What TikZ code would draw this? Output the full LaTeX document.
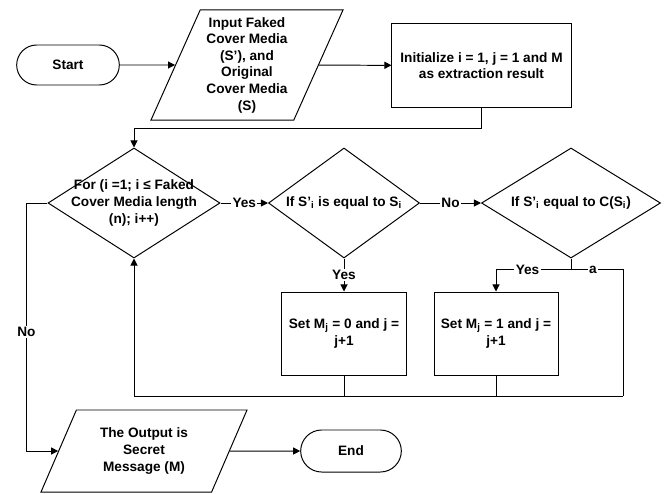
\documentclass[tikz,border=0pt]{standalone}
\usepackage{fontspec}
\setmainfont{Liberation Sans}
\usetikzlibrary{arrows.meta, shapes.geometric, shapes.misc}

\begin{document}
\begin{tikzpicture}[
		x=0.025cm, y=-0.025cm,
		every node/.style={font=\bfseries\fontsize{9.7}{11.8}\selectfont, align=center},
		terminal/.style={rounded rectangle, draw=black, minimum width=2.8cm, minimum height=1cm},
		io/.style={trapezium, trapezium stretches=true, draw=black, inner sep=0pt},
		process/.style={rectangle, draw=black, minimum width=3.1cm, minimum height=2.075cm},
		decision/.style={diamond, draw=black, minimum height=2.75cm, inner sep=0pt},
		lbl/.style={fill=white, inner sep=1pt},
		>={Triangle[length=5pt, width=5pt]},
		line width=0.7pt
		]
		\useasboundingbox (0,0) rectangle (668,493);
		
		% Positions of the nodes
		\node[terminal] (start) at (68,65) {Start};
		\node[io, trapezium left angle=66, trapezium right angle=114,
		minimum width=4.8cm, minimum height=2.75cm] (in) at (247,65)
		{Input Faked\\Cover Media\\(S’), and\\Original\\Cover Media\\(S)};
		\node[process, minimum width=4.475cm] (init) at (481.5,65.5)
		{Initialize i = 1, j = 1 and M\\as extraction result};
		
		\node[decision, minimum width=4.3cm] (for) at (134,203) {};
		\node at (for) {For (i =1; i ≤ Faked\\Cover Media length\\(n); i++)};
		\node[decision, minimum width=3.775cm] (if1) at (344,203) {};
		\node at (if1) {If S’\textsubscript{i} is equal to S\textsubscript{i}};
		\node[decision, minimum width=4.475cm] (if2) at (571,203) {};
		\node at (if2) {If S’\textsubscript{i} equal to C(S\textsubscript{i})};
		
		\node[process] (set0) at (344,333.5) {Set M\textsubscript{j} = 0 and j =\\j+1};
		\node[process] (set1) at (496,333.5) {Set M\textsubscript{j} = 1 and j =\\j+1};
		
		\node[io, trapezium left angle=63.4, trapezium right angle=116.6,
		minimum width=5.15cm, minimum height=2.05cm] (out) at (144,451)
		{The Output is\\Secret\\Message (M)};
		\node[terminal, minimum width=2.75cm, minimum height=1.05cm] (end) at (351,451) {End};
		
		\coordinate (ret) at (623,396);
		
		% Main flow
		\draw[->] (start) -- (in);
		\draw[->] (in) -- (init);
		\draw[->] (init.south) -- ++(0,21) -| (for.north);
		\draw[->] (for) -- node[lbl] {Yes} (if1);
		\draw[->] (if1) -- node[lbl] {No} (if2);
		\draw[->] (if1) -- node[lbl] {Yes} (set0);
		
		% Second check splits
		\draw (if2.south) -- ++(0,11) coordinate (split);
		\draw[->] (split) -| node[lbl, pos=0.29] {Yes} (set1.north);
		\draw (split) -| node[lbl, pos=0.21] {a} (ret);
		
		% Back to the loop
		\draw (set0.south) -- (set0.south |- ret);
		\draw (set1.south) -- (set1.south |- ret);
		\draw[->] (ret) -| (for.south);
		
		% Loop finished
		\draw[->] (for.west) -- ++(-21,0) |- node[lbl, pos=0.26] {No} (out);
		\draw[->] (out) -- (end);
		
	\end{tikzpicture}
\end{document}
